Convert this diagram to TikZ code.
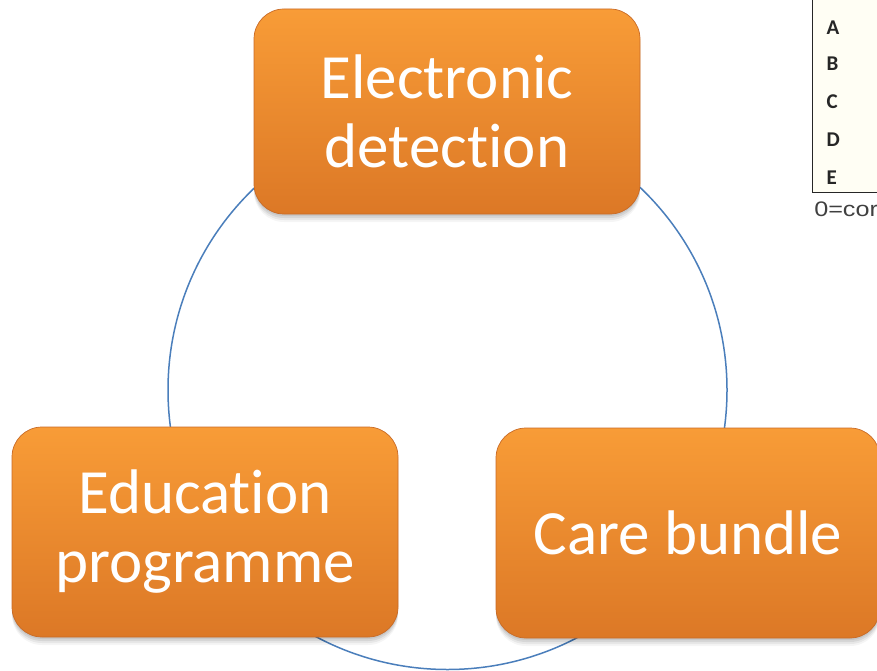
\documentclass[tikz,border=0pt]{standalone}
\usepackage{fontspec}
\setmainfont{Carlito}[Ligatures={NoCommon}]
\newfontfamily\notefont{Liberation Sans}
\definecolor{orTop}{RGB}{248,156,55}
\definecolor{orMid}{RGB}{245,143,44}
\definecolor{orBot}{RGB}{220,120,38}
\definecolor{orEdge}{RGB}{200,106,38}
\definecolor{ringBlue}{RGB}{74,126,187}
\definecolor{paper}{RGB}{255,254,244}
\begin{document}
\begin{tikzpicture}[x=1pt,y=-1pt,
  cyclebox/.style={rectangle, rounded corners=30pt, inner sep=0pt,
    text=white, align=center, font=\fontsize{63}{69}\selectfont,
    top color=orTop, middle color=orMid, bottom color=orBot,
    draw=orEdge, line width=0.7pt,
    preaction={fill=black, opacity=0.07, transform canvas={yshift=-2pt}},
    preaction={fill=black, opacity=0.07, transform canvas={yshift=-4pt}},
    preaction={fill=black, opacity=0.06, transform canvas={yshift=-6pt}},
    preaction={fill=black, opacity=0.04, transform canvas={yshift=-8pt}}},
  ring/.style={circle, draw=ringBlue, line width=1.5pt, inner sep=0pt},
  keyletter/.style={anchor=base west, inner sep=0pt, text=black!85,
    font=\bfseries\fontsize{21}{21}\selectfont},
  gridline/.style={draw=black!85, line width=1pt}]
\useasboundingbox (0,0) rectangle (877,671);
\clip (0,0) rectangle (877,671);

% the cycle ring behind the three stages
\node[ring, minimum size=559pt] (loop) at (447.5,390) {};

% fragment of the key table at the right edge
\fill[paper] (812.7,0) rectangle (877,192.7);
\coordinate (tabTop) at (812.7,0);
\coordinate (tabCorner) at (812.7,192.7);
\coordinate (tabEnd) at (880,192.7);
\draw[gridline] (tabTop) -- (tabCorner) -- (tabEnd);
\node[keyletter] (kA) at (826.5,35) {A};
\node[keyletter] (kB) at (826.5,71) {B};
\node[keyletter] (kC) at (826.5,109) {C};
\node[keyletter] (kD) at (826.5,147) {D};
\node[keyletter] (kE) at (826.5,185) {E};
\node[anchor=base west, inner sep=0pt, text=black!75,
  font=\notefont\fontsize{21}{21}\selectfont, xscale=1.2, transform shape]
  (knote) at (814,216.5) {0=cor};

% the three stages
\node[cyclebox, minimum width=386pt, minimum height=205pt] (detect) at (447,111.5)
  {Electronic\\detection};
\node[cyclebox, minimum width=386pt, minimum height=210pt] (educ) at (205,532)
  {Education\\programme};
\node[cyclebox, minimum width=384pt, minimum height=210pt] (care) at (688,533)
  {Care bundle};
\end{tikzpicture}
\end{document}
